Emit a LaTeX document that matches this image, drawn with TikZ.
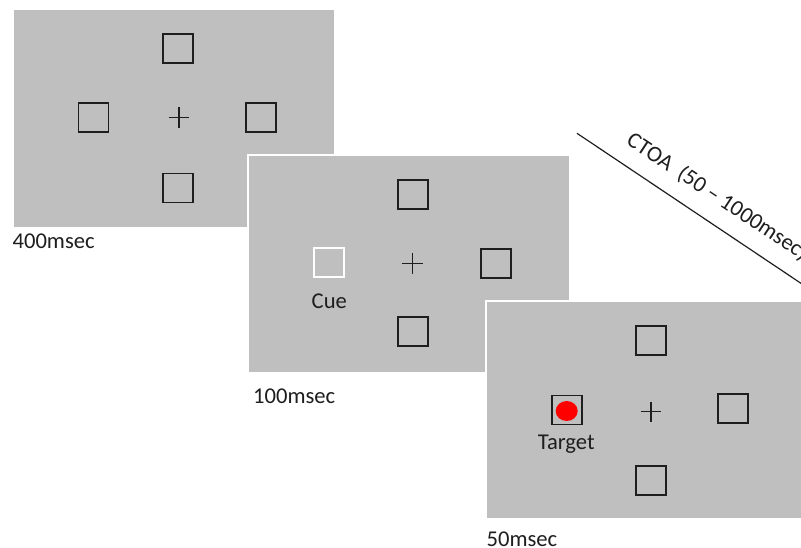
\documentclass[tikz,border=0pt]{standalone}
\usepackage{fontspec}
\setmainfont{Carlito}
\usetikzlibrary{arrows.meta,shapes.geometric}
\definecolor{screen}{RGB}{191,191,191}
\definecolor{targetred}{RGB}{255,0,0}
\definecolor{ink}{RGB}{30,30,30}
\tikzset{
  panel/.style={rectangle, fill=screen, draw=white, line width=1.5pt,
    minimum width=322pt, minimum height=218pt, anchor=north west, inner sep=0pt},
  placeholder/.style={rectangle, draw=ink, line width=1.7pt,
    minimum width=30pt, minimum height=29pt, inner sep=0pt},
  cuebox/.style={placeholder, draw=white},
  fixation/.style={rectangle, inner sep=0pt, minimum size=20pt},
  crossline/.style={draw=ink, line width=1.3pt},
  caption/.style={inner sep=0pt, text=ink, font=\fontsize{22.6}{27}\selectfont},
  timeline/.style={draw=ink, line width=1.2pt, -{Latex[length=10pt,width=7pt]}},
}
\begin{document}
\begin{tikzpicture}[x=1pt,y=-1pt]
\path[use as bounding box, clip] (0,0) rectangle (801,547);

% first screen: fixation display
\node[panel] (p1) at (12,8.5) {};
\node[placeholder] (p1t) at (177.7,48.3) {};
\node[placeholder] (p1l) at (93.5,117.5) {};
\node[placeholder] (p1r) at (261,117.5) {};
\node[placeholder] (p1b) at (177.7,188) {};
\node[fixation] (f1) at (179,117.3) {};
\draw[crossline] (f1.west) -- (f1.east) (f1.north) -- (f1.south);
\node[caption, anchor=base west] (d1) at (12.4,248.3) {400msec};

% second screen: cue
\node[panel] (p2) at (247,154) {};
\node[placeholder] (p2t) at (413,194.5) {};
\node[cuebox] (p2l) at (328.7,262.8) {};
\node[placeholder] (p2r) at (496.3,263.3) {};
\node[placeholder] (p2b) at (413,331.8) {};
\node[fixation] (f2) at (412.3,263.3) {};
\draw[crossline] (f2.west) -- (f2.east) (f2.north) -- (f2.south);
\node[caption, anchor=base] (cue) at (329.3,308.3) {Cue};
\node[caption, anchor=base west] (d2) at (253,403) {100msec};

% third screen: target
\node[panel] (p3) at (485,300) {};
\node[placeholder] (p3t) at (651.3,340.7) {};
\node[placeholder] (p3l) at (567,410) {};
\node[placeholder] (p3r) at (732.7,408.5) {};
\node[placeholder] (p3b) at (651.3,480.3) {};
\node[ellipse, fill=targetred, inner sep=0pt, minimum width=22pt, minimum height=20pt] (dot) at (566.7,411) {};
\node[fixation] (f3) at (651,411.7) {};
\draw[crossline] (f3.west) -- (f3.east) (f3.north) -- (f3.south);
\node[caption, anchor=base] (tgt) at (566.2,449.3) {Target};
\node[caption, anchor=base west] (d3) at (486.4,546) {50msec};

% cue-target onset asynchrony
\coordinate (ctoaA) at (577,133.3);
\coordinate (ctoaB) at (812,290.7);
\draw[timeline] (ctoaA) -- (ctoaB);
\node[caption, rotate=-33.5, anchor=base west] (ctoa) at (625.3,143.7) {CTOA\ \ (50 – 1000msec)};
\end{tikzpicture}
\end{document}
